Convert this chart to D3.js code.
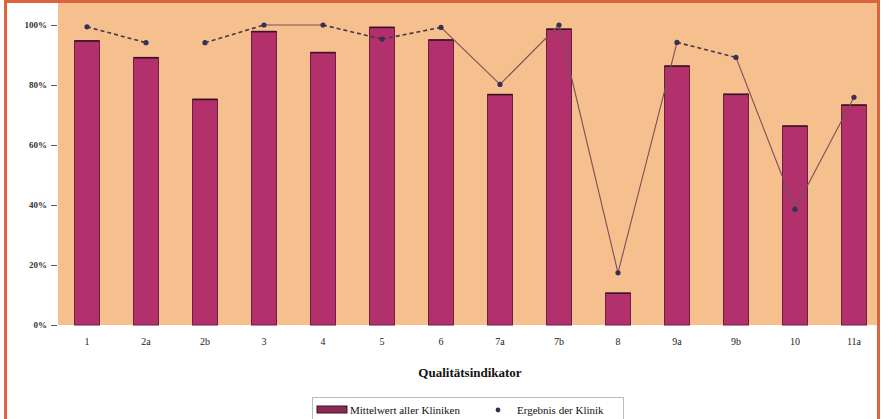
<!DOCTYPE html>
<html>
<head>
<meta charset="utf-8">
<script src="https://cdn.jsdelivr.net/npm/d3@7"></script>
<style>
  body { margin: 0; background: #fff; }
  svg { display: block; font-family: "Liberation Serif", "DejaVu Serif", serif; }
</style>
</head>
<body>
<div id="chart"></div>
<script>
// Qualitätsindikatoren
const categories = ['1', '2a', '2b', '3', '4', '5', '6', '7a', '7b', '8', '9a', '9b', '10', '11a'];
// Mittelwert aller Kliniken (%)
const meanValues = [94.7, 89.1, 75.2, 97.8, 90.8, 99.2, 95.0, 76.8, 98.6, 10.6, 86.3, 76.9, 66.3, 73.3];
// Ergebnis der Klinik (%)
const clinicValues = [99.4, 94.1, 94.1, 100, 100, 95.3, 99.2, 80.2, 100, 17.4, 94.2, 89.2, 38.6, 75.9];
const yTicks = [0, 20, 40, 60, 80, 100];

const width = 886, height = 419;
const plot = {left: 58, right: 877, top: 3, bottom: 325};

const svg = d3.select('#chart').append('svg')
  .attr('width', width)
  .attr('height', height);

svg.append('rect')
  .attr('width', width).attr('height', height)
  .attr('fill', '#fff');

//Plot background
svg.append('rect')
  .attr('x', plot.left).attr('y', plot.top)
  .attr('width', plot.right - plot.left)
  .attr('height', plot.bottom - plot.top)
  .attr('fill', '#f6bf8e');

const xScale = d3.scaleBand()
  .domain(categories)
  .range([57.5, 883.5]);

const yScale = d3.scaleLinear()
  .domain([0, 100])
  .range([plot.bottom, 25]);

const barW = 25;

//Y axis
const yAxis = d3.axisLeft(yScale)
  .tickValues(yTicks)
  .tickFormat(d => d + '%')
  .tickSize(6)
  .tickPadding(4);

const gy = svg.append('g')
  .attr('transform', `translate(${plot.left - 1},0)`)
  .call(yAxis)
  .attr('font-family', null);
gy.select('.domain').remove();
gy.selectAll('.tick line').attr('stroke', '#555');
gy.selectAll('.tick text')
  .attr('font-size', 9)
  .attr('font-weight', 'bold')
  .attr('fill', '#333');

//X axis labels
const xAxis = d3.axisBottom(xScale).tickSize(0).tickPadding(13);
const gx = svg.append('g')
  .attr('transform', `translate(0,${plot.bottom})`)
  .call(xAxis)
  .attr('font-family', null);
gx.select('.domain').remove();
gx.selectAll('.tick text')
  .attr('font-size', 10)
  .attr('fill', '#222');

//Bars
const bars = svg.append('g');
bars.selectAll('rect')
  .data(meanValues)
  .join('rect')
  .attr('x', (d, i) => xScale(categories[i]) + xScale.bandwidth() / 2 - barW / 2)
  .attr('y', d => yScale(d))
  .attr('width', barW)
  .attr('height', d => plot.bottom - yScale(d))
  .attr('fill', '#b2306c')
  .attr('stroke', '#6e1c42')
  .attr('stroke-width', 1);

bars.selectAll('line')
  .data(meanValues)
  .join('line')
  .attr('x1', (d, i) => xScale(categories[i]) + xScale.bandwidth() / 2 - barW / 2)
  .attr('x2', (d, i) => xScale(categories[i]) + xScale.bandwidth() / 2 + barW / 2)
  .attr('y1', d => yScale(d))
  .attr('y2', d => yScale(d))
  .attr('stroke', '#3a1224')
  .attr('stroke-width', 1.6);

//Line segments between clinic results, dashed or solid, null = no segment
const segStyle = ['dash', null, 'dash', 'solid', 'dash', 'dash', 'solid', 'solid', 'solid', 'solid', 'dash', 'solid', 'solid'];
const cx = i => xScale(categories[i]) + xScale.bandwidth() / 2;

const segs = segStyle.map((s, i) => ({s, i})).filter(d => d.s);
svg.append('g').selectAll('line')
  .data(segs)
  .join('line')
  .attr('x1', d => cx(d.i))
  .attr('y1', d => yScale(clinicValues[d.i]))
  .attr('x2', d => cx(d.i + 1))
  .attr('y2', d => yScale(clinicValues[d.i + 1]))
  .attr('stroke', d => d.s === 'dash' ? '#4a3448' : '#7a5058')
  .attr('stroke-width', d => d.s === 'dash' ? 1.6 : 1.1)
  .attr('stroke-dasharray', d => d.s === 'dash' ? '4,3' : null);

svg.append('g').selectAll('circle')
  .data(clinicValues)
  .join('circle')
  .attr('cx', (d, i) => cx(i))
  .attr('cy', d => yScale(d))
  .attr('r', 2.6)
  .attr('fill', '#35305a');

//Axis title
svg.append('text')
  .attr('x', 470)
  .attr('y', 377)
  .attr('text-anchor', 'middle')
  .attr('font-size', 13)
  .attr('font-weight', 'bold')
  .attr('fill', '#111')
  .text('Qualitätsindikator');

//Legend
const legend = svg.append('g');
legend.append('rect')
  .attr('x', 312.5).attr('y', 397.5)
  .attr('width', 311).attr('height', 40)
  .attr('fill', '#fff')
  .attr('stroke', '#bbb');
legend.append('rect')
  .attr('x', 317).attr('y', 406)
  .attr('width', 30).attr('height', 7)
  .attr('fill', '#8a2a55')
  .attr('stroke', '#3a1224');
legend.append('text')
  .attr('x', 350).attr('y', 414)
  .attr('font-size', 11)
  .attr('fill', '#111')
  .text('Mittelwert aller Kliniken');
legend.append('circle')
  .attr('cx', 498).attr('cy', 410)
  .attr('r', 2.4)
  .attr('fill', '#35305a');
legend.append('text')
  .attr('x', 517).attr('y', 414)
  .attr('font-size', 11)
  .attr('fill', '#111')
  .text('Ergebnis der Klinik');

//Outer frame
svg.append('rect')
  .attr('x', 5.5).attr('y', 1.5)
  .attr('width', 873).attr('height', 440)
  .attr('fill', 'none')
  .attr('stroke', '#d9643e')
  .attr('stroke-width', 3);
</script>
</body>
</html>
